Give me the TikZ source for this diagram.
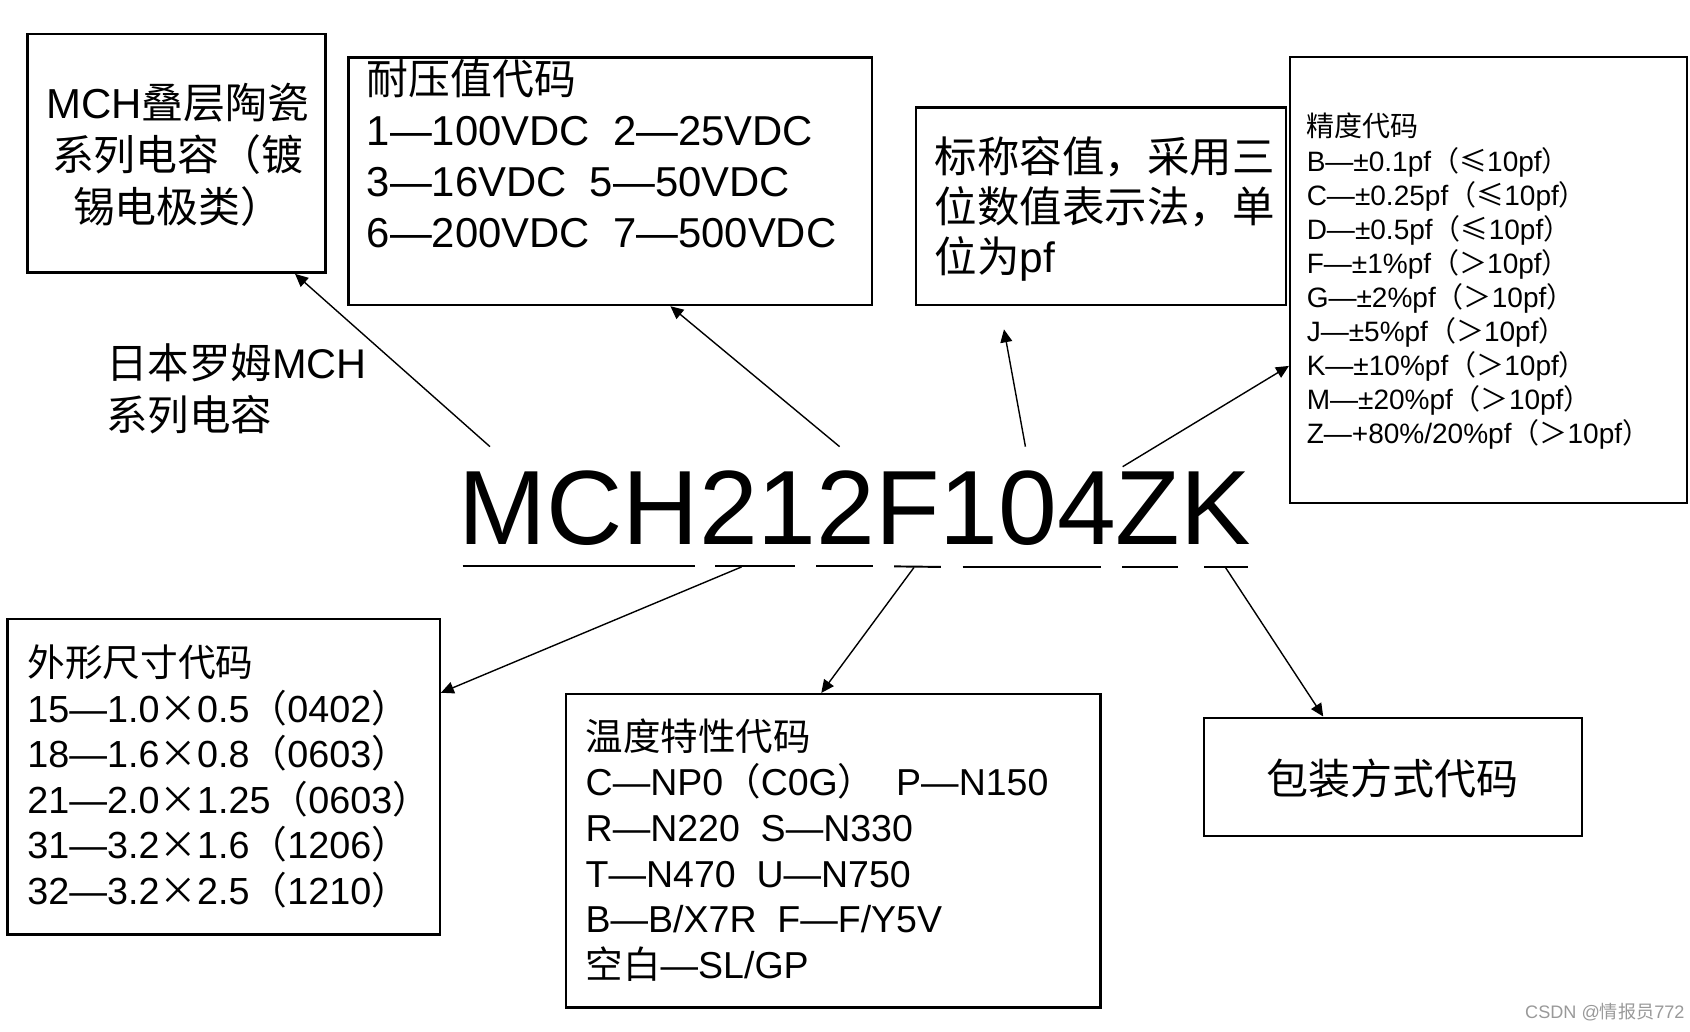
\documentclass[tikz,border=0pt]{standalone}
\usepackage{fontspec}
\setmainfont{Liberation Sans}
\newfontfamily\zhfont{Noto Sans CJK SC}
\newcommand\zh[1]{{\zhfont #1}}
\usetikzlibrary{arrows.meta,fit}
\begin{document}
\begin{tikzpicture}[x=0.5pt,y=-0.5pt,
  box/.style={draw, line width=1.1pt, inner sep=0pt},
  txt/.style={inner sep=0pt, anchor=base west, align=left},
  uline/.style={line width=0.9pt},
  arr/.style={-{Triangle[length=6pt,width=5.5pt]}, line width=0.65pt}]
\useasboundingbox (0,0) rectangle (1568,957);
% boxes
\node[box, fit={(25.5,31.5) (302,253)}] (boxA) {};
\node[box, fit={(323.3,53.5) (809.3,283)}] (boxB) {};
\node[box, fit={(850,99.6) (1193,283)}] (boxC) {};
\node[box, fit={(1197,52.6) (1565,466.4)}] (boxD) {};
\node[box, fit={(7,574.3) (408,867.2)}] (boxE) {};
\node[box, fit={(525,644) (1021,934.6)}] (boxF) {};
\node[box, fit={(1117,665.9) (1468,775.7)}] (boxG) {};
% texts (anchor = baseline of the last line)
\node[inner sep=0pt, align=center, anchor=base, font=\fontsize{19.45}{24}\selectfont] (tA) at (165,206)
  {MCH\zh{叠层陶瓷}\\\zh{系列电容（镀}\\\zh{锡电极类）}};
\node[txt, font=\fontsize{19.4}{23.65}\selectfont] (tB) at (340,230)
  {\zh{耐压值代码}\\1—100VDC\ \ 2—25VDC\\3—16VDC\ \ 5—50VDC\\6—200VDC\ \ 7—500VDC};
\node[txt, font=\fontsize{19.7}{23.25}\selectfont] (tC) at (867,253)
  {\zh{标称容值，采用三}\\\zh{位数值表示法，单}\\\zh{位为}pf};
\node[txt, font=\fontsize{13}{15.8}\selectfont] (tD) at (1212,411.5)
  {\zh{精度代码}\\
   B—±0.1pf\zh{（≤}10pf\zh{）}\\
   C—±0.25pf\zh{（≤}10pf\zh{）}\\
   D—±0.5pf\zh{（≤}10pf\zh{）}\\
   F—±1\%pf\zh{（＞}10pf\zh{）}\\
   G—±2\%pf\zh{（＞}10pf\zh{）}\\
   J—±5\%pf\zh{（＞}10pf\zh{）}\\
   K—±10\%pf\zh{（＞}10pf\zh{）}\\
   M—±20\%pf\zh{（＞}10pf\zh{）}\\
   Z—+80\%/20\%pf\zh{（＞}10pf\zh{）}};
\node[txt, font=\fontsize{17.5}{21.1}\selectfont] (tE) at (25,839)
  {\zh{外形尺寸代码}\\
   15—1.0\zh{×}0.5\zh{（}0402\zh{）}\\
   18—1.6\zh{×}0.8\zh{（}0603\zh{）}\\
   21—2.0\zh{×}1.25\zh{（}0603\zh{）}\\
   31—3.2\zh{×}1.6\zh{（}1206\zh{）}\\
   32—3.2\zh{×}2.5\zh{（}1210\zh{）}};
\node[txt, font=\fontsize{17.4}{21.2}\selectfont] (tF) at (543,908)
  {\zh{温度特性代码}\\
   C—NP0\zh{（}C0G\zh{）}\ \ P—N150\\
   R—N220\ \ S—N330\\
   T—N470\ \ U—N750\\
   B—B/X7R\ \ F—F/Y5V\\
   \zh{空白}—SL/GP};
\node[inner sep=0pt, font=\fontsize{19.5}{24}\selectfont] (tG) at (1292,722) {\zh{包装方式代码}};
\node[txt, font=\fontsize{19.25}{24}\selectfont] (tL) at (98,399.5)
  {\zh{日本罗姆}MCH\\\zh{系列电容}};
\node[txt, font=\fontsize{49}{58}\selectfont] (code) at (425,505) {MCH212F104ZK};
\node[inner sep=0pt, text=black!40, font=\fontsize{8.4}{10}\selectfont] (wm) at (1489,939.3) {CSDN @\zh{情报员}772};
% underlines
\draw[uline] (429.3,525) -- (644.9,525);
\draw[uline] (663.4,525.5) -- (737.6,525.5);
\draw[uline] (757.1,525.5) -- (809.7,525.5);
\draw[uline] (829.5,525.5) -- (873,526);
\draw[uline] (893.2,526.5) -- (1021.2,526.5);
\draw[uline] (1041.3,526) -- (1093,526);
\draw[uline] (1117.1,526.5) -- (1158,526.5);
% arrow ends
\coordinate (s1) at (454.6,414.4);
\coordinate (s2) at (779,414.4);
\coordinate (s3) at (951.4,414.4);
\coordinate (s4) at (1041.6,433);
\coordinate (s5) at (688,526);
\coordinate (s6) at (848,526.5);
\coordinate (s7) at (1137,526.5);
\coordinate (e3) at (931.5,305.6);
\draw[arr] (s1) -- ([xshift=55pt]boxA.south);
\draw[arr] (s2) -- ([xshift=27.85pt]boxB.south);
\draw[arr] (s3) -- (e3);
\draw[arr] (s4) -- ([yshift=-40pt]boxD.west);
\draw[arr] (s5) -- ([yshift=39pt]boxE.east);
\draw[arr] (s6) -- ([xshift=-5.5pt]boxF.north);
\draw[arr] (s7) -- ([xshift=-32.4pt]boxG.north);
\end{tikzpicture}
\end{document}
